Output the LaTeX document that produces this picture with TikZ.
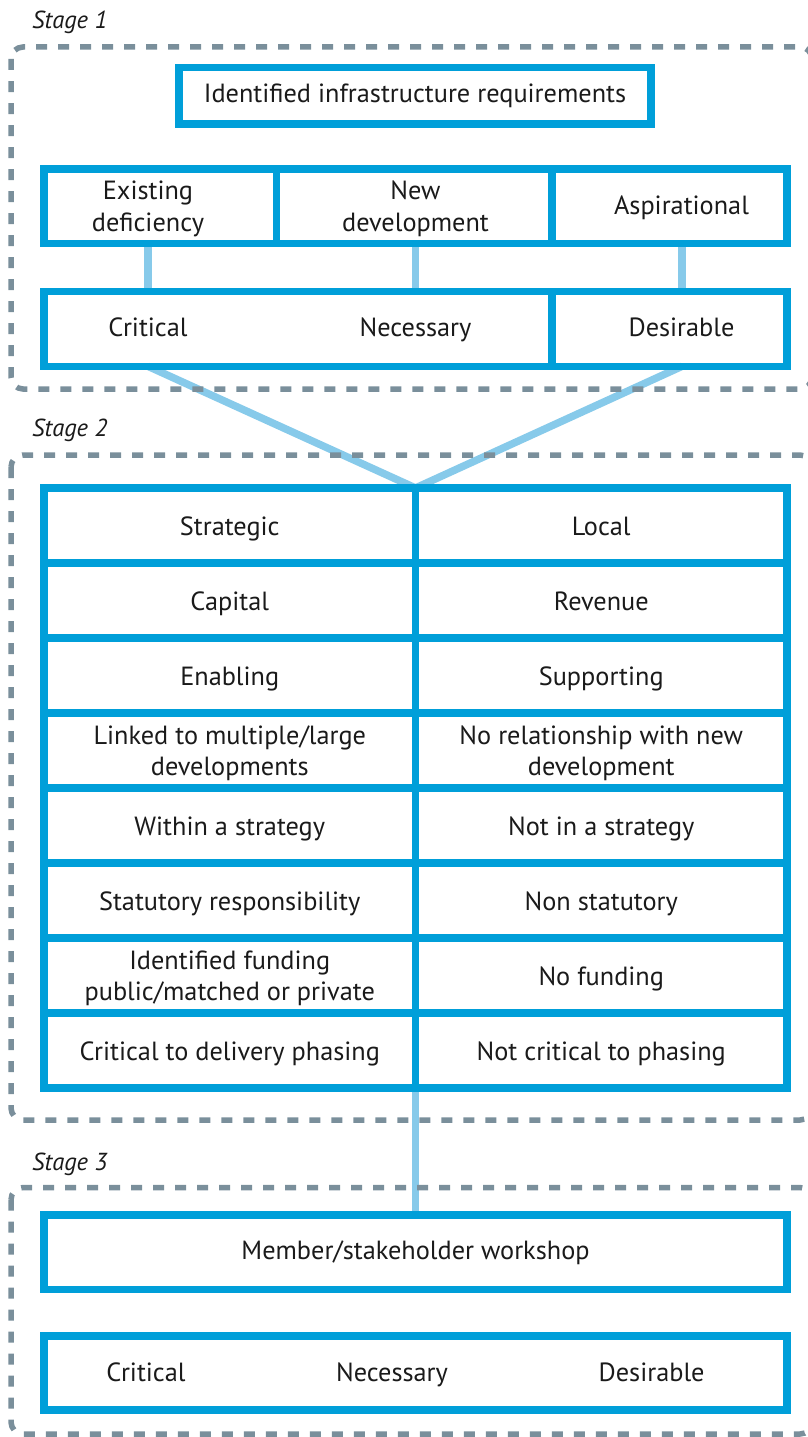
\documentclass[tikz,border=0pt]{standalone}
\usepackage{fontspec}
\setmainfont{PT Sans}
\usetikzlibrary{backgrounds}
\definecolor{boxblue}{HTML}{009FD9}
\definecolor{linkblue}{HTML}{87CAEA}
\definecolor{dashgray}{HTML}{7A8F9B}
\definecolor{ink}{HTML}{1A1A1A}
\newcommand\mainsz{\fontsize{26.3}{31.5}\selectfont}
\newcommand\stagesz{\fontsize{24.6}{30}\selectfont\itshape}
\begin{document}
\begin{tikzpicture}[x=1pt,y=-1pt,
  cell/.style={draw=boxblue, line width=7.5pt, rectangle, inner sep=0pt, outer sep=0pt,
    text=ink, font=\mainsz, align=center},
  onecell/.style={cell, text height=20.5pt, text depth=0pt},
  twocell/.style={cell, yshift=-3pt},
  txt/.style={text=ink, font=\mainsz, inner sep=0pt, align=center},
  link/.style={draw=linkblue, line width=7.5pt},
  stagebox/.style={draw=dashgray, line width=5.5pt, dash pattern=on 11pt off 11pt, rounded corners=12pt},
  stagelbl/.style={text=ink, font=\stagesz, inner sep=0pt, anchor=base west}]
\useasboundingbox (0,0) rectangle (808,1437);
\clip (0,0) rectangle (808,1437);

% Stage labels
\node[stagelbl] (st1) at (32,28.3) {Stage 1};
\node[stagelbl] (st2) at (32,436.7) {Stage 2};
\node[stagelbl] (st3) at (32,1170) {Stage 3};

% Stage 1
\node[cell, minimum width=472pt, minimum height=56.5pt] (req) at (415,95.75) {Identified infrastructure requirements};
\node[cell, minimum width=232.5pt, minimum height=74.7pt] (exist) at (160.25,206.35) {};
\node[cell, minimum width=275.5pt, minimum height=74.7pt] (newdev) at (414.25,206.35) {};
\node[cell, minimum width=235pt, minimum height=74.7pt] (aspir) at (669.5,206.35) {};
\node[txt] (lexist) at (148,209) {Existing\\deficiency};
\node[txt] (lnew) at (415.5,209) {New\\development};
\node[txt, anchor=base] (laspir) at (681.5,214) {Aspirational};
\node[cell, minimum width=508pt, minimum height=74.6pt] (prio) at (298,329) {};
\node[cell, minimum width=235pt, minimum height=74.6pt] (desir) at (669.5,329) {};
\node[txt, anchor=base] (lcrit) at (148,336) {Critical};
\node[txt, anchor=base] (lnec) at (415.5,336) {Necessary};
\node[txt, anchor=base] (ldes) at (681.5,336) {Desirable};

% Stage 2
\node[onecell, minimum width=371.5pt, minimum height=75pt] (sa1) at (229.75,525.5) {Strategic};
\node[onecell, minimum width=371.5pt, minimum height=75pt] (sb1) at (601.25,525.5) {Local};
\node[onecell, minimum width=371.5pt, minimum height=75pt] (sa2) at (229.75,600.5) {Capital};
\node[onecell, minimum width=371.5pt, minimum height=75pt] (sb2) at (601.25,600.5) {Revenue};
\node[onecell, minimum width=371.5pt, minimum height=75pt] (sa3) at (229.75,675.5) {Enabling};
\node[onecell, minimum width=371.5pt, minimum height=75pt] (sb3) at (601.25,675.5) {Supporting};
\node[cell, minimum width=371.5pt, minimum height=75pt] (sa4) at (229.75,750.5) {};
\node[cell, minimum width=371.5pt, minimum height=75pt] (sb4) at (601.25,750.5) {};
\node[txt] (ta4) at (229.75,753.5) {Linked to multiple/large\\developments};
\node[txt] (tb4) at (601.25,753.5) {No relationship with new\\development};
\node[onecell, minimum width=371.5pt, minimum height=75pt] (sa5) at (229.75,825.5) {Within a strategy};
\node[onecell, minimum width=371.5pt, minimum height=75pt] (sb5) at (601.25,825.5) {Not in a strategy};
\node[onecell, minimum width=371.5pt, minimum height=75pt] (sa6) at (229.75,900.5) {Statutory responsibility};
\node[onecell, minimum width=371.5pt, minimum height=75pt] (sb6) at (601.25,900.5) {Non statutory};
\node[cell, minimum width=371.5pt, minimum height=75pt] (sa7) at (229.75,975.5) {};
\node[txt] (ta7) at (229.75,978.5) {Identified funding\\public/matched or private};
\node[onecell, minimum width=371.5pt, minimum height=75pt] (sb7) at (601.25,975.5) {No funding};
\node[onecell, minimum width=371.5pt, minimum height=75pt] (sa8) at (229.75,1050.5) {Critical to delivery phasing};
\node[onecell, minimum width=371.5pt, minimum height=75pt] (sb8) at (601.25,1050.5) {Not critical to phasing};

% Stage 3
\node[cell, minimum width=743pt, minimum height=74.7pt] (member) at (415.5,1252.35) {Member/stakeholder workshop};
\node[cell, minimum width=743pt, minimum height=74pt] (result) at (415.5,1373) {};
\node[txt, anchor=base] (rcrit) at (146,1381.7) {Critical};
\node[txt, anchor=base] (rnec) at (392,1381.7) {Necessary};
\node[txt, anchor=base] (rdes) at (651.6,1381.7) {Desirable};

\begin{scope}[on background layer]
  \draw[link] (lexist |- exist.south) -- (lexist |- prio.north);
  \draw[link] (lnew |- newdev.south) -- (lnew |- prio.north);
  \draw[link] (682,0 |- aspir.south) -- (682,0 |- desir.north);
  \draw[link] (lcrit |- prio.south) -- (sa1.north east);
  \draw[link] (682,0 |- desir.south) -- (sa1.north east);
  \draw[link] (sa8.south east) -- (member.north);
  \draw[stagebox] (11,47) rectangle (812,389);
  \draw[stagebox] (11,455) rectangle (812,1120);
  \draw[stagebox] (11,1187.5) rectangle (812,1434);
\end{scope}
\end{tikzpicture}
\end{document}
